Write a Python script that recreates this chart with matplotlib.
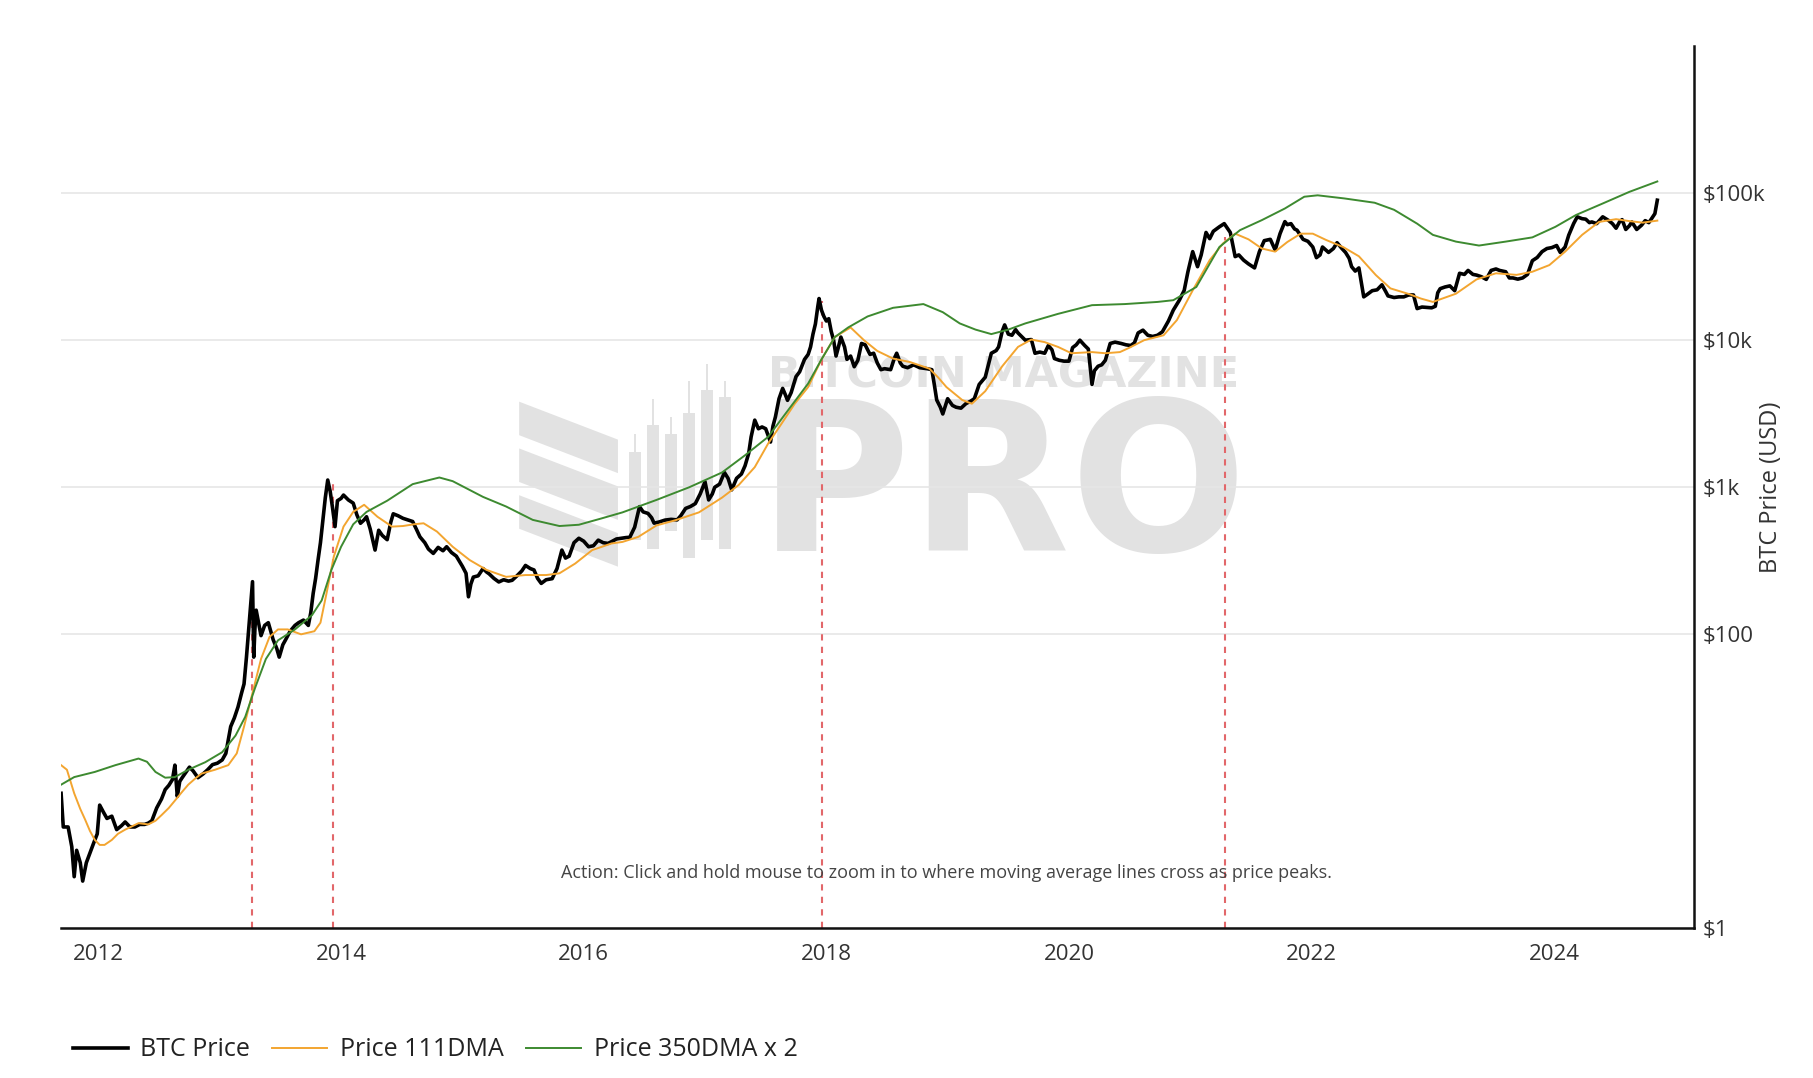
import numpy as np
import matplotlib
matplotlib.use("Agg")
import matplotlib.pyplot as plt
from matplotlib.patches import Polygon, Rectangle

plt.rcParams['font.family'] = ['Open Sans', 'DejaVu Sans']

# --- data (decimal years, USD) ---
price_t = [2011.692, 2011.71, 2011.75, 2011.78, 2011.80, 2011.82, 2011.85, 2011.87, 2011.90, 2011.92,
           2011.96, 2011.99, 2012.01, 2012.04, 2012.07, 2012.11, 2012.15, 2012.19, 2012.22, 2012.26,
           2012.30, 2012.34, 2012.38, 2012.41, 2012.44, 2012.48, 2012.52, 2012.55, 2012.58, 2012.61,
           2012.63, 2012.65, 2012.67, 2012.69, 2012.72, 2012.75, 2012.78, 2012.82, 2012.86, 2012.90,
           2012.94, 2012.98, 2013.02, 2013.05, 2013.09, 2013.12, 2013.15, 2013.18, 2013.20, 2013.22,
           2013.24, 2013.26, 2013.27, 2013.28, 2013.29, 2013.30, 2013.32, 2013.34, 2013.37, 2013.40,
           2013.42, 2013.44, 2013.47, 2013.49, 2013.52, 2013.54, 2013.58, 2013.62, 2013.65, 2013.69,
           2013.73, 2013.75, 2013.77, 2013.79, 2013.81, 2013.83, 2013.85, 2013.87, 2013.89, 2013.91,
           2013.93, 2013.95, 2013.97, 2014.00, 2014.02, 2014.06, 2014.10, 2014.13, 2014.16, 2014.19,
           2014.21, 2014.24, 2014.28, 2014.31, 2014.34, 2014.38, 2014.41, 2014.43, 2014.47, 2014.51,
           2014.55, 2014.59, 2014.62, 2014.65, 2014.69, 2014.72, 2014.76, 2014.80, 2014.84, 2014.87,
           2014.91, 2014.95, 2015.00, 2015.03, 2015.05, 2015.07, 2015.09, 2015.13, 2015.17, 2015.20,
           2015.22, 2015.26, 2015.30, 2015.34, 2015.38, 2015.41, 2015.45, 2015.49, 2015.52, 2015.56,
           2015.59, 2015.62, 2015.65, 2015.69, 2015.74, 2015.78, 2015.82, 2015.85, 2015.88, 2015.92,
           2015.96, 2016.00, 2016.04, 2016.08, 2016.12, 2016.16, 2016.20, 2016.23, 2016.27, 2016.31,
           2016.35, 2016.38, 2016.42, 2016.46, 2016.49, 2016.53, 2016.56, 2016.58, 2016.62, 2016.67,
           2016.72, 2016.77, 2016.80, 2016.84, 2016.88, 2016.92, 2016.96, 2017.00, 2017.03, 2017.06,
           2017.08, 2017.12, 2017.16, 2017.19, 2017.22, 2017.26, 2017.30, 2017.33, 2017.36, 2017.38,
           2017.41, 2017.44, 2017.47, 2017.50, 2017.54, 2017.56, 2017.58, 2017.61, 2017.64, 2017.66,
           2017.68, 2017.71, 2017.75, 2017.78, 2017.82, 2017.85, 2017.87, 2017.89, 2017.91, 2017.93,
           2017.94, 2017.96, 2017.98, 2018.00, 2018.02, 2018.04, 2018.06, 2018.08, 2018.10, 2018.12,
           2018.15, 2018.17, 2018.20, 2018.23, 2018.26, 2018.29, 2018.32, 2018.36, 2018.39, 2018.42,
           2018.45, 2018.48, 2018.53, 2018.56, 2018.58, 2018.61, 2018.63, 2018.67, 2018.72, 2018.77,
           2018.83, 2018.87, 2018.89, 2018.91, 2018.94, 2018.96, 2019.00, 2019.04, 2019.07, 2019.11,
           2019.15, 2019.19, 2019.22, 2019.26, 2019.31, 2019.34, 2019.36, 2019.40, 2019.42, 2019.45,
           2019.47, 2019.50, 2019.53, 2019.56, 2019.58, 2019.62, 2019.64, 2019.69, 2019.72, 2019.76,
           2019.80, 2019.83, 2019.86, 2019.88, 2019.92, 2019.96, 2020.00, 2020.03, 2020.06, 2020.09,
           2020.13, 2020.16, 2020.19, 2020.21, 2020.24, 2020.27, 2020.30, 2020.34, 2020.38, 2020.43,
           2020.47, 2020.51, 2020.54, 2020.57, 2020.61, 2020.65, 2020.69, 2020.73, 2020.77, 2020.82,
           2020.86, 2020.91, 2020.95, 2020.98, 2021.02, 2021.06, 2021.09, 2021.13, 2021.16, 2021.19,
           2021.24, 2021.28, 2021.31, 2021.33, 2021.37, 2021.40, 2021.44, 2021.48, 2021.53, 2021.57,
           2021.61, 2021.66, 2021.70, 2021.74, 2021.78, 2021.80, 2021.83, 2021.86, 2021.88, 2021.93,
           2021.97, 2022.01, 2022.04, 2022.07, 2022.09, 2022.14, 2022.18, 2022.21, 2022.25, 2022.28,
           2022.31, 2022.33, 2022.36, 2022.39, 2022.43, 2022.46, 2022.50, 2022.54, 2022.58, 2022.61,
           2022.63, 2022.68, 2022.72, 2022.76, 2022.80, 2022.84, 2022.87, 2022.91, 2022.95, 2022.99,
           2023.02, 2023.04, 2023.06, 2023.10, 2023.14, 2023.18, 2023.22, 2023.26, 2023.29, 2023.33,
           2023.36, 2023.40, 2023.44, 2023.48, 2023.52, 2023.55, 2023.60, 2023.63, 2023.66, 2023.70,
           2023.74, 2023.78, 2023.82, 2023.86, 2023.90, 2023.94, 2023.98, 2024.02, 2024.05, 2024.09,
           2024.12, 2024.16, 2024.19, 2024.23, 2024.26, 2024.29, 2024.31, 2024.35, 2024.40, 2024.45,
           2024.48, 2024.51, 2024.54, 2024.56, 2024.59, 2024.62, 2024.64, 2024.68, 2024.72, 2024.75,
           2024.78, 2024.80, 2024.83, 2024.85]
price = [8.3, 4.9, 4.9, 3.6, 2.25, 3.4, 2.8, 2.1, 2.8, 3.1,
         3.8, 4.4, 6.9, 6.2, 5.6, 5.8, 4.7, 5.0, 5.3, 4.9,
         4.9, 5.1, 5.1, 5.2, 5.4, 6.6, 7.6, 8.8, 9.4, 10.3,
         12.9, 7.9, 10.0, 10.6, 11.5, 12.5, 11.8, 10.6, 11.2, 12.0,
         13.0, 13.3, 14.0, 15.5, 23.6, 27, 32, 40, 46, 70,
         113, 180, 228, 70, 110, 146, 120, 98, 115, 120,
         105, 92, 80, 70, 85, 91, 105, 115, 120, 125,
         115, 140, 190, 240, 320, 420, 598, 850, 1120, 940,
         720, 540, 810, 840, 885, 820, 780, 650, 569, 600,
         630, 520, 374, 510, 470, 440, 580, 660, 640, 615,
         600, 585, 520, 460, 420, 380, 355, 390, 370, 394,
         360, 340, 290, 260, 180, 220, 245, 250, 280, 265,
         258, 240, 227, 235, 230, 233, 250, 270, 294, 280,
         274, 240, 222, 235, 239, 280, 374, 330, 340, 420,
         450, 430, 394, 400, 437, 420, 415, 427, 445, 450,
         455, 457, 535, 738, 680, 664, 620, 570, 580, 598,
         605, 600, 640, 718, 740, 774, 900, 1090, 820, 900,
         1000, 1050, 1260, 1150, 960, 1150, 1230, 1400, 1700, 2200,
         2860, 2500, 2570, 2500, 2030, 2600, 3000, 4000, 4700, 4300,
         3900, 4400, 5650, 6100, 7400, 8000, 9000, 11000, 12900, 17000,
         19200, 16000, 14500, 13500, 14000, 11500, 10000, 7800, 9000, 10500,
         9000, 7400, 7800, 6600, 7300, 9500, 9300, 8000, 8150, 7000,
         6300, 6400, 6300, 7500, 8150, 7000, 6650, 6500, 6800, 6500,
         6400, 6300, 5000, 3920, 3500, 3150, 4000, 3600, 3500, 3450,
         3700, 3850, 4000, 5000, 5600, 7000, 8150, 8500, 9000, 11500,
         12700, 11000, 10800, 11800, 11200, 10400, 10000, 10100, 8150, 8300,
         8150, 9200, 8600, 7500, 7300, 7200, 7200, 8900, 9300, 10000,
         9200, 8700, 5000, 6200, 6650, 6800, 7300, 9500, 9700, 9500,
         9300, 9200, 9600, 11200, 11700, 10800, 10600, 10800, 11400, 13500,
         16000, 18700, 21800, 29000, 40000, 31600, 38000, 54000, 49000, 55000,
         59000, 62000, 57000, 54000, 37000, 38000, 35000, 33000, 31000, 40000,
         47500, 48500, 41000, 53000, 64000, 61000, 62000, 57000, 56000, 48500,
         47000, 43000, 36400, 38000, 43000, 39500, 42000, 46000, 42000, 39500,
         36000, 31600, 29500, 31000, 19700, 20500, 21700, 22000, 23800, 21500,
         20000, 19500, 19700, 19700, 20300, 20300, 16400, 16800, 16700, 16600,
         17000, 21000, 22400, 23000, 23400, 21700, 28500, 28000, 29800, 28000,
         27700, 27000, 25900, 29800, 30500, 29800, 29200, 26500, 26500, 26000,
         26500, 28000, 34700, 36500, 40000, 42000, 42600, 44000, 39500, 43000,
         51800, 62000, 69000, 67000, 66500, 63000, 63700, 62000, 69000, 65000,
         62000, 57700, 64000, 66000, 56600, 60000, 63700, 56600, 60500, 65000,
         63000, 66500, 72500, 89500]

dma111_t = [2011.692, 2011.74, 2011.80, 2011.85, 2011.89, 2011.93, 2011.97, 2012.01, 2012.05, 2012.11,
            2012.16, 2012.22, 2012.33, 2012.41, 2012.47, 2012.52, 2012.58, 2012.63, 2012.69, 2012.74,
            2012.80, 2012.85, 2012.96, 2013.07, 2013.14, 2013.20, 2013.27, 2013.34, 2013.41, 2013.48,
            2013.56, 2013.67, 2013.78, 2013.83, 2013.88, 2013.94, 2014.02, 2014.10, 2014.19, 2014.30,
            2014.42, 2014.51, 2014.60, 2014.68, 2014.79, 2014.92, 2015.06, 2015.20, 2015.36, 2015.52,
            2015.69, 2015.80, 2015.93, 2016.07, 2016.23, 2016.32, 2016.45, 2016.60, 2016.76, 2016.95,
            2017.14, 2017.28, 2017.41, 2017.52, 2017.63, 2017.74, 2017.85, 2017.96, 2018.07, 2018.20,
            2018.31, 2018.42, 2018.55, 2018.69, 2018.85, 2018.92, 2018.99, 2019.12, 2019.20, 2019.31,
            2019.45, 2019.58, 2019.69, 2019.80, 2019.91, 2020.02, 2020.19, 2020.30, 2020.42, 2020.50,
            2020.62, 2020.78, 2020.89, 2021.02, 2021.16, 2021.27, 2021.37, 2021.48, 2021.59, 2021.70,
            2021.80, 2021.91, 2022.01, 2022.12, 2022.26, 2022.39, 2022.53, 2022.65, 2022.81, 2022.90,
            2023.00, 2023.19, 2023.36, 2023.52, 2023.69, 2023.82, 2023.96, 2024.09, 2024.23, 2024.37,
            2024.51, 2024.62, 2024.73, 2024.85]
dma111 = [12.9, 12.0, 8.3, 6.5, 5.5, 4.6, 4.0, 3.7, 3.7, 4.0,
          4.4, 4.7, 5.2, 5.1, 5.4, 5.9, 6.6, 7.4, 8.5, 9.5,
          10.5, 11.3, 12.0, 12.9, 15.5, 23.6, 40, 68, 96, 108,
          108, 100, 105, 120, 190, 338, 540, 680, 760, 630,
          540, 545, 560, 569, 500, 394, 320, 274, 246, 253,
          253, 260, 303, 374, 415, 425, 460, 550, 598, 675,
          850, 1040, 1370, 1980, 2700, 3700, 4800, 7400, 10500, 12200,
          10000, 8450, 7500, 7100, 6400, 5600, 4800, 3920, 3700, 4500,
          6650, 9000, 10100, 9700, 9000, 8150, 8300, 8150, 8300, 8900,
          10000, 10800, 13700, 21800, 35000, 45500, 53000, 48500, 42000, 40000,
          46500, 53000, 53000, 48000, 43000, 37200, 27700, 22500, 20500, 19200,
          18200, 20700, 25900, 28500, 27800, 29200, 32400, 40000, 52000, 63700,
          66500, 64500, 63000, 65000]

dma350x2_t = [2011.692, 2011.80, 2011.97, 2012.14, 2012.33, 2012.40, 2012.47, 2012.55, 2012.63, 2012.74,
              2012.88, 2013.02, 2013.13, 2013.21, 2013.29, 2013.38, 2013.48, 2013.62, 2013.76, 2013.84,
              2013.92, 2014.00, 2014.10, 2014.21, 2014.38, 2014.59, 2014.81, 2014.92, 2015.17, 2015.36,
              2015.58, 2015.80, 2015.96, 2016.15, 2016.32, 2016.60, 2016.87, 2017.14, 2017.33, 2017.52,
              2017.68, 2017.85, 2017.96, 2018.07, 2018.18, 2018.34, 2018.55, 2018.80, 2018.96, 2019.10,
              2019.23, 2019.36, 2019.50, 2019.64, 2019.91, 2020.19, 2020.46, 2020.73, 2020.86, 2021.05,
              2021.24, 2021.41, 2021.59, 2021.78, 2021.94, 2022.05, 2022.27, 2022.52, 2022.68, 2022.87,
              2023.00, 2023.19, 2023.38, 2023.60, 2023.82, 2024.01, 2024.18, 2024.40, 2024.62, 2024.85]
dma350x2 = [9.5, 10.7, 11.6, 12.9, 14.3, 13.6, 11.6, 10.6, 10.7, 12.0,
            13.5, 15.8, 20.5, 27.5, 43, 68, 91, 108, 135, 170,
            274, 394, 560, 680, 810, 1050, 1165, 1100, 860, 740,
            600, 545, 556, 615, 675, 820, 1000, 1260, 1650, 2200,
            3300, 5070, 7400, 10500, 12200, 14500, 16600, 17600, 15500, 13000,
            11800, 11000, 11800, 13000, 15100, 17300, 17600, 18200, 18700, 23000,
            43000, 56000, 65500, 78600, 94500, 96600, 92000, 86000, 77000, 62000,
            52000, 46800, 44000, 46800, 50000, 59000, 71000, 85000, 102000, 120000]

# Pi cycle top crossings: dashed markers from the axis up to the price
cross_t = [2013.268, 2013.935, 2017.968, 2021.285]
cross_top = [146, 1070, 18600, 50000]

ytick_vals = [1, 100, 1000, 10000, 100000]
ytick_labels = ['$1', '$100', '$1k', '$10k', '$100k']
xtick_years = [2012, 2014, 2016, 2018, 2020, 2022, 2024]

fig = plt.figure(figsize=(18.13, 10.78), dpi=100)
ax = fig.add_axes([0.0337, 0.1387, 0.9007, 0.8186])

# watermark (logo + wordmark), light grey behind everything
wm = '#e2e2e2'
ax.text(0.577, 0.627, 'BITCOIN MAGAZINE', transform=ax.transAxes, ha='center', va='center',
        fontsize=31, fontweight='heavy', color=wm, zorder=0, family='DejaVu Sans')
ax.text(0.577, 0.494, 'PRO', transform=ax.transAxes, ha='center', va='center',
        fontsize=150, fontweight='heavy', color=wm, zorder=0, family='DejaVu Sans')
# slanted stripes of the logo
for k in range(3):
    y0 = 0.597 - k * 0.053
    ax.add_patch(Polygon([(0.2805, y0), (0.2805, y0 - 0.038), (0.341, y0 - 0.081), (0.341, y0 - 0.043)],
                         closed=True, transform=ax.transAxes, color=wm, zorder=0, lw=0))
# candle bars of the logo (x, bottom, top, wick top)
bars = [(0.348, 0.44, 0.54, 0.56), (0.359, 0.43, 0.571, 0.60), (0.370, 0.45, 0.56, 0.58),
        (0.381, 0.42, 0.584, 0.62), (0.392, 0.44, 0.610, 0.64), (0.403, 0.43, 0.602, 0.62)]
for bx, b0, b1, w1 in bars:
    ax.add_patch(Rectangle((bx, b0), 0.007, b1 - b0, transform=ax.transAxes, color=wm, zorder=0, lw=0))
    ax.add_patch(Rectangle((bx + 0.0028, b1), 0.0014, w1 - b1, transform=ax.transAxes, color=wm, zorder=0, lw=0))

ax.plot(price_t, price, color='black', lw=2.6, label='BTC Price', zorder=3)
ax.plot(dma111_t, dma111, color='#f3a530', lw=1.4, label='Price 111DMA', zorder=4)
ax.plot(dma350x2_t, dma350x2, color='#3d8a30', lw=1.4, label='Price 350DMA x 2', zorder=4)

ax.vlines(cross_t, 1, cross_top, colors='#e2676a', linestyles=(0, (3, 3)), lw=1.5, zorder=2)

ax.set_yscale('log')
ax.set_ylim(1, 1e6)
ax.set_xlim(2011.692, 2025.153)

ax.yaxis.tick_right()
ax.set_yticks(ytick_vals)
ax.set_yticklabels(ytick_labels)
ax.yaxis.set_minor_locator(matplotlib.ticker.NullLocator())
ax.set_xticks(xtick_years)
ax.set_xticklabels([str(y) for y in xtick_years])
ax.tick_params(axis='x', length=0, pad=11, labelsize=16, colors='#333333')
ax.tick_params(axis='y', length=0, pad=6, labelsize=16, colors='#333333')
ax.grid(axis='y', color='#e6e6e6', lw=1.2, zorder=1)
ax.set_axisbelow(True)

for s in ['left', 'top']:
    ax.spines[s].set_visible(False)
for s in ['right', 'bottom']:
    ax.spines[s].set_linewidth(1.8)
    ax.spines[s].set_color('#111111')

ax.text(1.047, 0.5, 'BTC Price (USD)', transform=ax.transAxes, rotation=90,
        ha='center', va='center', fontsize=17, color='#333333')

ax.text(0.542, 0.063, 'Action: Click and hold mouse to zoom in to where moving average lines cross as price peaks.',
        transform=ax.transAxes, ha='center', va='center', fontsize=13, color='#444444', zorder=5)

fig.legend(loc='center left', bbox_to_anchor=(0.040, 1 - 1050 / 1078), ncol=3, frameon=False,
           fontsize=18, handlelength=2.2, handletextpad=0.5, columnspacing=0.9,
           borderpad=0, borderaxespad=0, labelcolor='#222222')

fig.savefig('out.png', dpi=100, facecolor='white')
